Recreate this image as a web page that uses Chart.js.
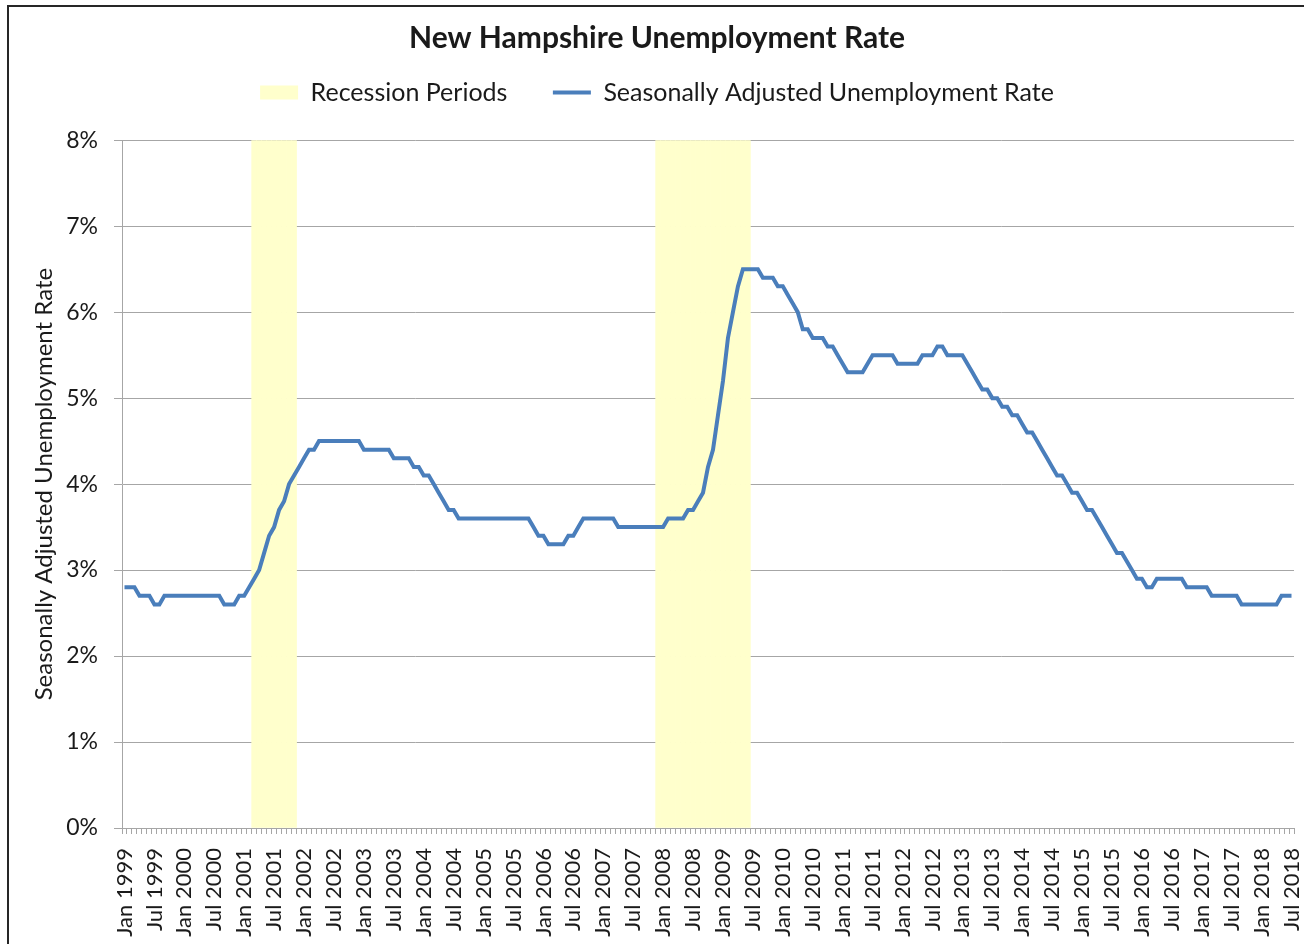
<!DOCTYPE html>
<html>
<head>
<meta charset="utf-8">
<title>New Hampshire Unemployment Rate</title>
<script src="https://cdn.jsdelivr.net/npm/chart.js@4.4.1/dist/chart.umd.min.js"></script>
<style>
    html, body { margin: 0; padding: 0; background: #fff; overflow: hidden; }
    #wrap { position: absolute; left: 0; top: 0; width: 1304px; height: 944px; }
    #frame { position: absolute; left: 7px; top: 5px; width: 1400px; height: 1000px;
             border-left: 2px solid #262626; border-top: 2px solid #262626; pointer-events: none; }
</style>
</head>
<body>
<div id="wrap"><canvas id="nhChart"></canvas></div>
<div id="frame"></div>
<script>
// months Jan 1999 .. Jul 2018
const monthNames = ['Jan', 'Feb', 'Mar', 'Apr', 'May', 'Jun', 'Jul', 'Aug', 'Sep', 'Oct', 'Nov', 'Dec'];
const firstYear = 1999;
const monthCount = 235;

// seasonally adjusted unemployment rate (%), one row per year
const unemploymentRate = [
    2.8, 2.8, 2.8, 2.7, 2.7, 2.7, 2.6, 2.6, 2.7, 2.7, 2.7, 2.7, // 1999
    2.7, 2.7, 2.7, 2.7, 2.7, 2.7, 2.7, 2.7, 2.6, 2.6, 2.6, 2.7, // 2000
    2.7, 2.8, 2.9, 3.0, 3.2, 3.4, 3.5, 3.7, 3.8, 4.0, 4.1, 4.2, // 2001
    4.3, 4.4, 4.4, 4.5, 4.5, 4.5, 4.5, 4.5, 4.5, 4.5, 4.5, 4.5, // 2002
    4.4, 4.4, 4.4, 4.4, 4.4, 4.4, 4.3, 4.3, 4.3, 4.3, 4.2, 4.2, // 2003
    4.1, 4.1, 4.0, 3.9, 3.8, 3.7, 3.7, 3.6, 3.6, 3.6, 3.6, 3.6, // 2004
    3.6, 3.6, 3.6, 3.6, 3.6, 3.6, 3.6, 3.6, 3.6, 3.6, 3.5, 3.4, // 2005
    3.4, 3.3, 3.3, 3.3, 3.3, 3.4, 3.4, 3.5, 3.6, 3.6, 3.6, 3.6, // 2006
    3.6, 3.6, 3.6, 3.5, 3.5, 3.5, 3.5, 3.5, 3.5, 3.5, 3.5, 3.5, // 2007
    3.5, 3.6, 3.6, 3.6, 3.6, 3.7, 3.7, 3.8, 3.9, 4.2, 4.4, 4.8, // 2008
    5.2, 5.7, 6.0, 6.3, 6.5, 6.5, 6.5, 6.5, 6.4, 6.4, 6.4, 6.3, // 2009
    6.3, 6.2, 6.1, 6.0, 5.8, 5.8, 5.7, 5.7, 5.7, 5.6, 5.6, 5.5, // 2010
    5.4, 5.3, 5.3, 5.3, 5.3, 5.4, 5.5, 5.5, 5.5, 5.5, 5.5, 5.4, // 2011
    5.4, 5.4, 5.4, 5.4, 5.5, 5.5, 5.5, 5.6, 5.6, 5.5, 5.5, 5.5, // 2012
    5.5, 5.4, 5.3, 5.2, 5.1, 5.1, 5.0, 5.0, 4.9, 4.9, 4.8, 4.8, // 2013
    4.7, 4.6, 4.6, 4.5, 4.4, 4.3, 4.2, 4.1, 4.1, 4.0, 3.9, 3.9, // 2014
    3.8, 3.7, 3.7, 3.6, 3.5, 3.4, 3.3, 3.2, 3.2, 3.1, 3.0, 2.9, // 2015
    2.9, 2.8, 2.8, 2.9, 2.9, 2.9, 2.9, 2.9, 2.9, 2.8, 2.8, 2.8, // 2016
    2.8, 2.8, 2.7, 2.7, 2.7, 2.7, 2.7, 2.7, 2.6, 2.6, 2.6, 2.6, // 2017
    2.6, 2.6, 2.6, 2.6, 2.7, 2.7, 2.7                           // 2018
];

// recession periods, first and last month
const recessionPeriods = [['Mar 2001', 'Nov 2001'], ['Dec 2007', 'Jun 2009']];
const recessionHeight = 8;

const yTicksMax = 8;
const yTicksStep = 1;

const months = [];
for (let i = 0; i < monthCount; i++) {
    months.push(monthNames[i % 12] + ' ' + (firstYear + Math.floor(i / 12)));
}

const recessionBars = months.map(() => null);
recessionPeriods.forEach(([from, to]) => {
    for (let i = months.indexOf(from); i <= months.indexOf(to); i++) recessionBars[i] = recessionHeight;
});

const textColor = '#1a1a1a';
const gridColor = '#a6a6a6';

function initializeUnemploymentChart() {
    const ctx = document.getElementById('nhChart').getContext('2d');
    Chart.defaults.font.family = 'Lato, "Noto Sans", sans-serif';
    Chart.defaults.color = textColor;

    const data = {
        labels: months,
        datasets: [
            {
                type: 'bar',
                label: 'Recession Periods',
                data: recessionBars,
                backgroundColor: '#FFFFCC',
                borderWidth: 0,
                barPercentage: 1,
                categoryPercentage: 1,
                pointStyle: 'rect',
                order: 1
            },
            {
                type: 'line',
                label: 'Seasonally Adjusted Unemployment Rate',
                data: unemploymentRate,
                borderColor: '#4A7EBB',
                backgroundColor: '#4A7EBB',
                borderWidth: 4,
                pointRadius: 0,
                pointStyle: 'line',
                tension: 0,
                fill: false,
                order: 0
            }
        ]
    };

    const options = {
        responsive: true,
        maintainAspectRatio: false,
        animation: false,
        devicePixelRatio: 1,
        layout: { padding: { top: 6, left: 20, right: 10, bottom: 0 } },
        scales: {
            x: {
                offset: true,
                grid: { offset: true, drawOnChartArea: false, tickLength: 6, color: gridColor },
                border: { color: gridColor },
                ticks: {
                    autoSkip: false,
                    minRotation: 90,
                    maxRotation: 90,
                    padding: 14,
                    font: { size: 22 },
                    callback: (v, i) => (i % 6 === 0 ? months[i] : '')
                },
                afterFit: s => {
                    s.height = 116;
                    s.paddingLeft = 0;
                    s.paddingRight = 0;
                }
            },
            y: {
                min: 0,
                max: yTicksMax,
                ticks: {
                    stepSize: yTicksStep,
                    padding: 16,
                    font: { size: 23 },
                    callback: v => v + '%'
                },
                grid: { color: gridColor, tickLength: 8 },
                border: { color: gridColor },
                title: {
                    display: true,
                    text: 'Seasonally Adjusted Unemployment Rate',
                    font: { size: 24 },
                    padding: { top: 10, bottom: 0 }
                },
                afterFit: s => { s.width = 102; }
            }
        },
        plugins: {
            title: {
                display: true,
                text: 'New Hampshire Unemployment Rate',
                font: { size: 30, weight: 'bold' },
                padding: { top: 14, bottom: 16 }
            },
            // empty spacer between legend and plot area
            subtitle: {
                display: true,
                text: ' ',
                weight: 500,
                font: { size: 1 },
                padding: { top: 24, bottom: 0 }
            },
            legend: {
                position: 'top',
                labels: {
                    usePointStyle: true,
                    pointStyleWidth: 38,
                    boxHeight: 14,
                    padding: 8,
                    font: { size: 25 },
                    sort: (a, b) => a.datasetIndex - b.datasetIndex,
                    generateLabels: chart => {
                        const items = Chart.defaults.plugins.legend.labels.generateLabels(chart);
                        items.sort((a, b) => a.datasetIndex - b.datasetIndex);
                        items[0].text += '\u2002\u2002\u2002';
                        return items;
                    }
                }
            },
            tooltip: { enabled: false }
        }
    };

    new Chart(ctx, { data: data, options: options });
}

initializeUnemploymentChart();
</script>
</body>
</html>
